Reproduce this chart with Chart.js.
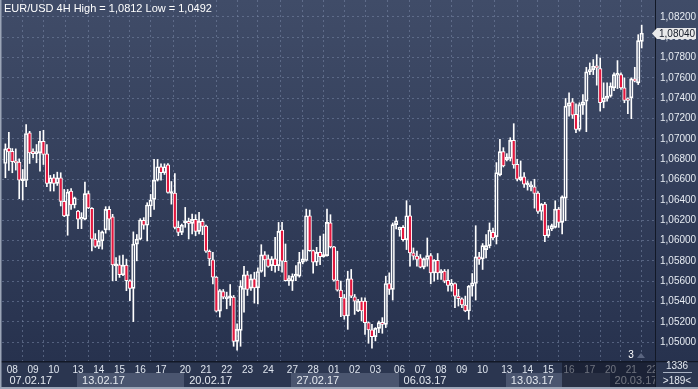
<!DOCTYPE html>
<html>
<head>
<meta charset="utf-8">
<script src="https://cdn.jsdelivr.net/npm/chart.js@4.4.1/dist/chart.umd.min.js"></script>
<style>
html,body{margin:0;padding:0;background:#27324e;}
canvas{display:block;}
</style>
</head>
<body>
<canvas id="c" width="698" height="389"></canvas>
<script>
// ---- data (EUR/USD 4H candles, index 0 = first visible bar) ----
const opens = [
1.06758,1.06909,1.06879,1.06778,1.06771,1.06588,1.06591,1.07059,1.06863,1.06856,
1.06863,1.06977,1.06853,1.06562,1.06618,1.06562,1.06618,1.06386,1.06242,1.06487,
1.06350,1.06291,1.06209,1.06209,1.06461,1.06317,1.06013,1.05941,1.05996,1.06104,
1.06307,1.06232,1.05751,1.05761,1.05663,1.05758,1.05604,1.05529,1.05964,1.06013,
1.06199,1.06150,1.06340,1.06405,1.06595,1.06726,1.06667,1.06744,1.06463,1.06466,
1.06130,1.06080,1.06175,1.06188,1.06169,1.06208,1.06090,1.06188,1.06143,1.05894,
1.05809,1.05639,1.05305,1.05498,1.05426,1.05436,1.05443,1.05008,1.05116,1.05518,
1.05662,1.05531,1.05623,1.05534,1.05695,1.05858,1.05819,1.05753,1.05819,1.05753,
1.06103,1.05796,1.05606,1.05600,1.05649,1.05649,1.05786,1.05803,1.06244,1.05901,
1.05786,1.05884,1.05842,1.05851,1.06173,1.05937,1.05610,1.05512,1.05437,1.05257,
1.05623,1.05447,1.05306,1.05404,1.05404,1.05192,1.05120,1.05054,1.05136,1.05192,
1.05175,1.05577,1.05519,1.06156,1.06107,1.06130,1.06009,1.06244,1.05878,1.05846,
1.05829,1.05738,1.05813,1.05852,1.05682,1.05806,1.05682,1.05698,1.05607,1.05558,
1.05577,1.05453,1.05427,1.05365,1.05306,1.05551,1.05577,1.05839,1.05819,1.05911,
1.05950,1.06081,1.06038,1.06646,1.06875,1.06793,1.06809,1.06986,1.06751,1.06597,
1.06626,1.06548,1.06528,1.06528,1.06466,1.06286,1.06358,1.06047,1.06113,1.06129,
1.06309,1.06178,1.06417,1.07323,1.07365,1.07241,1.07094,1.07333,1.07372,1.07660,
1.07682,1.07715,1.07692,1.07365,1.07398,1.07421,1.07503,1.07627,1.07633,1.07503,
1.07398,1.07405,1.07591,1.07552,1.07960
];
const highs = [
1.06951,1.07066,1.06905,1.06902,1.06804,1.06699,1.07141,1.07075,1.06902,1.06945,
1.07075,1.07085,1.06945,1.06641,1.06650,1.06673,1.06667,1.06503,1.06503,1.06510,
1.06428,1.06297,1.06274,1.06575,1.06487,1.06323,1.06068,1.06101,1.06094,1.06333,
1.06333,1.06258,1.05833,1.05850,1.05856,1.05817,1.05614,1.06085,1.06059,1.06215,
1.06225,1.06372,1.06454,1.06798,1.06798,1.06755,1.06755,1.06757,1.06581,1.06659,
1.06188,1.06162,1.06326,1.06221,1.06260,1.06254,1.06277,1.06211,1.06152,1.05907,
1.05884,1.05646,1.05518,1.05518,1.05492,1.05567,1.05459,1.05181,1.05606,1.05747,
1.05698,1.05665,1.05688,1.05731,1.05959,1.05891,1.05858,1.05842,1.06031,1.06178,
1.06178,1.05966,1.05655,1.05672,1.05753,1.05884,1.05907,1.06309,1.06300,1.05907,
1.05933,1.06044,1.06064,1.06309,1.06254,1.05944,1.05895,1.05600,1.05469,1.05698,
1.05715,1.05469,1.05420,1.05437,1.05437,1.05198,1.05175,1.05143,1.05208,1.05241,
1.05649,1.05682,1.06173,1.06231,1.06133,1.06146,1.06392,1.06343,1.05927,1.05895,
1.05862,1.05829,1.06025,1.05872,1.05813,1.05872,1.05715,1.05715,1.05715,1.05617,
1.05584,1.05519,1.05437,1.05453,1.05558,1.05675,1.06146,1.05885,1.05970,1.06058,
1.06173,1.06123,1.06767,1.06996,1.06914,1.06855,1.07012,1.07150,1.06800,1.06783,
1.06669,1.06587,1.06581,1.06603,1.06482,1.06365,1.06375,1.06146,1.06162,1.06391,
1.06326,1.06440,1.07398,1.07454,1.07398,1.07346,1.07356,1.07437,1.07705,1.07748,
1.07781,1.07830,1.07797,1.07552,1.07552,1.07552,1.07650,1.07771,1.07650,1.07601,
1.07405,1.07601,1.07705,1.08026,1.08120
];
const lows = [
1.06618,1.06690,1.06667,1.06693,1.06412,1.06399,1.06529,1.06758,1.06814,1.06765,
1.06683,1.06748,1.06529,1.06487,1.06487,1.06542,1.06340,1.06235,1.06052,1.06307,
1.06320,1.06117,1.06117,1.06202,1.06314,1.05898,1.05931,1.05921,1.05915,1.06072,
1.06104,1.05604,1.05604,1.05637,1.05653,1.05506,1.05408,1.05202,1.05800,1.06006,
1.06111,1.05996,1.06235,1.06307,1.06585,1.06595,1.06650,1.06466,1.06358,1.06113,
1.06048,1.06058,1.06130,1.06015,1.06064,1.06048,1.06064,1.06058,1.05884,1.05753,
1.05574,1.05296,1.05247,1.05426,1.05328,1.05361,1.04959,1.04920,1.04959,1.05296,
1.05459,1.05508,1.05384,1.05377,1.05688,1.05646,1.05737,1.05704,1.05688,1.05704,
1.05688,1.05600,1.05557,1.05508,1.05606,1.05639,1.05770,1.05796,1.05894,1.05678,
1.05753,1.05763,1.05835,1.05845,1.05927,1.05600,1.05502,1.05250,1.05224,1.05126,
1.05437,1.05273,1.05299,1.05208,1.05077,1.04989,1.04940,1.05012,1.05093,1.05087,
1.05143,1.05469,1.05414,1.06114,1.06042,1.05993,1.05911,1.05747,1.05813,1.05747,
1.05731,1.05721,1.05747,1.05574,1.05600,1.05617,1.05617,1.05584,1.05502,1.05502,
1.05339,1.05355,1.05339,1.05299,1.05224,1.05453,1.05414,1.05764,1.05715,1.05829,
1.05927,1.06009,1.05966,1.06636,1.06724,1.06783,1.06783,1.06711,1.06587,1.06587,
1.06522,1.06496,1.06489,1.06319,1.06267,1.06201,1.05989,1.06031,1.06097,1.06123,
1.06129,1.06064,1.06195,1.07225,1.07202,1.07061,1.07078,1.07241,1.07071,1.07633,
1.07633,1.07529,1.07274,1.07306,1.07372,1.07411,1.07476,1.07496,1.07486,1.07356,
1.07248,1.07199,1.07561,1.07535,1.07895
];
const closes = [
1.06902,1.06873,1.06775,1.06765,1.06595,1.06601,1.07053,1.06863,1.06856,1.06869,
1.06977,1.06847,1.06562,1.06618,1.06562,1.06618,1.06386,1.06242,1.06477,1.06350,
1.06421,1.06209,1.06225,1.06461,1.06320,1.06013,1.05941,1.05996,1.06085,1.06307,
1.06209,1.05761,1.05761,1.05663,1.05758,1.05604,1.05529,1.05964,1.06013,1.06202,
1.06150,1.06350,1.06399,1.06595,1.06726,1.06667,1.06726,1.06473,1.06473,1.06130,
1.06080,1.06152,1.06188,1.06169,1.06208,1.06090,1.06188,1.06139,1.05894,1.05819,
1.05639,1.05305,1.05508,1.05443,1.05443,1.05443,1.05008,1.05126,1.05551,1.05662,
1.05518,1.05623,1.05534,1.05695,1.05858,1.05809,1.05744,1.05819,1.05753,1.06090,
1.05796,1.05606,1.05623,1.05649,1.05662,1.05786,1.05819,1.06244,1.05901,1.05786,
1.05884,1.05842,1.05851,1.06178,1.05937,1.05610,1.05512,1.05437,1.05257,1.05623,
1.05453,1.05404,1.05404,1.05306,1.05192,1.05120,1.05054,1.05136,1.05192,1.05175,
1.05577,1.05519,1.06156,1.06195,1.06130,1.06009,1.06244,1.05878,1.05846,1.05813,
1.05738,1.05819,1.05852,1.05682,1.05806,1.05682,1.05698,1.05600,1.05558,1.05577,
1.05453,1.05427,1.05365,1.05306,1.05551,1.05584,1.05839,1.05813,1.05950,1.05950,
1.06101,1.06025,1.06669,1.06875,1.06734,1.06822,1.06986,1.06744,1.06603,1.06626,
1.06554,1.06561,1.06548,1.06463,1.06286,1.06358,1.06047,1.06113,1.06146,1.06309,
1.06178,1.06430,1.07323,1.07356,1.07234,1.07094,1.07339,1.07365,1.07660,1.07682,
1.07715,1.07699,1.07356,1.07405,1.07421,1.07519,1.07633,1.07640,1.07503,1.07378,
1.07378,1.07591,1.07568,1.07967,1.08040
];
// x-axis day ticks (bar index of first bar of each day) and labels
const dayTickIdx = [2,8,14,21,27,33,39,45,52,58,64,70,76,83,89,95,101,107,114,120,126,132,138,145,151,157,163,169,175,181,187];
const dayTickLabels = ['08','09','10','13','14','15','16','17','20','21','22','23','24','27','28','01','02','03','06','07','08','09','10','13','14','15','16','17','20','21','22'];
// week-start bars and the week labels of the second axis row
const weekStartIdx = [0,21,52,83,114,145,175];
const weekLabels = ['07.02.17','13.02.17','20.02.17','27.02.17','06.03.17','13.03.17','20.03.17'];
// price axis ticks
const yTickValues = [1.050,1.052,1.054,1.056,1.058,1.060,1.062,1.064,1.066,1.068,1.070,1.072,1.074,1.076,1.078,1.080,1.082];
const titleText = 'EUR/USD 4H High = 1,0812 Low = 1,0492';
const barCount = '1336';
const visibleCount = '>189<';
const markerText = '3';

// ---- styling ----
const NARROW = "'Liberation Sans Narrow','Arial Narrow','Liberation Sans',Arial,sans-serif";
const RED = '#e3173e';
const GRID = 'rgba(120,134,165,0.55)';
const X_MIN = -0.983, X_MAX = 187.85;
const Y_MIN = 1.048142, Y_MAX = 1.083673;

const idx = opens.map((_, i) => i);
const bodyData = idx.map(i => ({x: i, y: [Math.min(opens[i], closes[i]), Math.max(opens[i], closes[i])]}));
const upperWick = idx.map(i => ({x: i, y: [Math.max(opens[i], closes[i]), highs[i]]}));
const lowerWick = idx.map(i => ({x: i, y: [lows[i], Math.min(opens[i], closes[i])]}));
const bodyFill = idx.map(i => closes[i] >= opens[i] ? 'rgba(0,0,0,0)' : RED);

const fmt = v => v.toFixed(5).replace('.', ',');

const decor = {
  id: 'decor',
  beforeDraw(chart) {
    const {ctx, width: W, height: H, chartArea: ca, scales: {x}} = chart;
    ctx.save();
    const g = ctx.createLinearGradient(0, 0, 0, ca.bottom);
    g.addColorStop(0, '#404c68');
    g.addColorStop(1, '#27324e');
    ctx.fillStyle = g;
    ctx.fillRect(0, 0, W, ca.bottom);
    ctx.fillStyle = '#2b3650';
    ctx.fillRect(0, ca.bottom, W, H - ca.bottom);
    // week boxes (second row of the time axis)
    ctx.font = '11px ' + NARROW;
    ctx.textBaseline = 'middle';
    for (let k = 0; k < weekStartIdx.length; k++) {
      const x0 = k === 0 ? 0 : Math.round(x.getPixelForValue(weekStartIdx[k])) - 1;
      const x1 = k + 1 < weekStartIdx.length ? Math.round(x.getPixelForValue(weekStartIdx[k + 1])) - 1 : ca.right;
      if (k % 2 === 1) {
        ctx.fillStyle = '#4a556f';
        ctx.fillRect(x0, 373, x1 - x0, 14);
      }
      ctx.fillStyle = '#e4e9f0';
      ctx.fillText(weekLabels[k], x.getPixelForValue(weekStartIdx[k]) + 4, 380.5);
    }
    ctx.restore();
  },
  afterDraw(chart) {
    const {ctx, width: W, height: H, chartArea: ca, scales: {x, y}} = chart;
    ctx.save();
    // title
    ctx.font = '11px ' + NARROW;
    ctx.textBaseline = 'middle';
    ctx.fillStyle = '#ffffff';
    ctx.fillText(titleText, 4, 8.5);
    // dim overlay on the time axis (scroll window)
    ctx.fillStyle = 'rgba(14,19,33,0.55)';
    ctx.fillRect(562, ca.bottom, ca.right - 562, H - ca.bottom);
    // separators
    ctx.fillStyle = '#121826';
    ctx.fillRect(0, ca.bottom, W, 1.5);
    ctx.fillRect(ca.right, 0, 1, H);
    // corner box
    ctx.fillStyle = '#2b3650';
    ctx.fillRect(ca.right + 1, ca.bottom + 1.5, W - ca.right - 1, H - ca.bottom - 3);
    ctx.fillStyle = '#e4e9f0';
    ctx.textAlign = 'center';
    ctx.font = '10px ' + NARROW;
    ctx.fillText(barCount, 677, 366);
    ctx.fillText(visibleCount, 677, 381);
    ctx.fillStyle = '#aab3c4';
    ctx.fillRect(663, 372, 29, 1);
    // marker "3"
    ctx.fillStyle = '#ffffff';
    ctx.fillText(markerText, 631, 355);
    ctx.fillStyle = '#5a6580';
    ctx.beginPath();
    ctx.moveTo(637, 358); ctx.lineTo(641, 353); ctx.lineTo(645, 358); ctx.closePath();
    ctx.fill();
    // last price tag
    const py = Math.round(y.getPixelForValue(closes[closes.length - 1])) + 0.5;
    ctx.fillStyle = '#e9e9ea';
    ctx.beginPath();
    ctx.moveTo(652, py);
    ctx.lineTo(657, py - 5.5);
    ctx.lineTo(696, py - 5.5);
    ctx.lineTo(696, py + 5.5);
    ctx.lineTo(657, py + 5.5);
    ctx.closePath();
    ctx.fill();
    ctx.fillStyle = '#151b28';
    ctx.textAlign = 'left';
    ctx.fillText(fmt(closes[closes.length - 1]), 659, py + 0.5);
    // frame
    ctx.fillStyle = '#9ba5b7';
    ctx.fillRect(0, 0, 1.5, H);
    ctx.fillRect(0, H - 2, W, 2);
    ctx.restore();
  }
};

new Chart(document.getElementById('c'), {
  type: 'bar',
  data: {
    datasets: [
      {data: bodyData, backgroundColor: bodyFill, borderColor: '#ffffff', borderWidth: 1,
       borderSkipped: false, barThickness: 3.5, minBarLength: 2, grouped: false, order: 0},
      {data: upperWick, backgroundColor: '#ffffff', borderWidth: 0, barThickness: 1, grouped: false, order: 1},
      {data: lowerWick, backgroundColor: '#ffffff', borderWidth: 0, barThickness: 1, grouped: false, order: 1}
    ]
  },
  options: {
    responsive: false,
    animation: false,
    devicePixelRatio: 1,
    layout: {padding: {left: 2, top: 0, right: 0, bottom: 0}},
    plugins: {legend: {display: false}, tooltip: {enabled: false}, title: {display: false}},
    scales: {
      x: {
        type: 'linear', position: 'bottom', min: X_MIN, max: X_MAX, offset: false,
        afterFit: s => { s.height = 28; s.paddingLeft = 0; s.paddingRight = 0; },
        afterBuildTicks: s => { s.ticks = dayTickIdx.map(v => ({value: v})); },
        ticks: {autoSkip: false, maxRotation: 0, minRotation: 0, padding: 3, color: '#dfe5ee',
                font: {family: NARROW, size: 10}, callback: (v, i) => dayTickLabels[i]},
        grid: {color: GRID, drawTicks: false, lineWidth: 1},
        border: {display: false, dash: [2, 3]}
      },
      y: {
        type: 'linear', position: 'right', min: Y_MIN, max: Y_MAX,
        afterFit: s => { s.width = 43; s.paddingTop = 0; s.paddingBottom = 0; },
        afterBuildTicks: s => { s.ticks = yTickValues.map(v => ({value: v})); },
        ticks: {padding: 5, color: '#e6ebf2', font: {family: NARROW, size: 10}, callback: v => fmt(v)},
        grid: {color: GRID, drawTicks: false, lineWidth: 1},
        border: {display: false, dash: [2, 3]}
      }
    }
  },
  plugins: [decor]
});
</script>
</body>
</html>
